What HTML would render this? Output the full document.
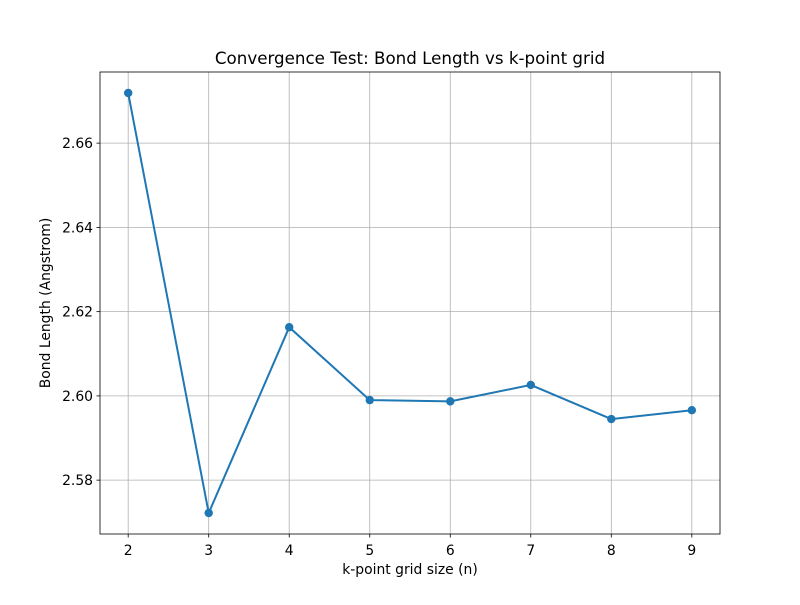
<!DOCTYPE html>
<html><head><meta charset="utf-8"><style>body{margin:0;background:#fff}svg{font-family:"DejaVu Sans","Liberation Sans",sans-serif}</style></head>
<body>
<svg id="chart" width="800" height="600" xmlns="http://www.w3.org/2000/svg">
<rect width="800" height="600" fill="#fff"/>
</svg>
<script>
const categories=[2,3,4,5,6,7,8,9];
const bondLength=[2.6719,2.5722,2.6163,2.5990,2.5987,2.6026,2.5945,2.5966];
const yTicks=[2.58,2.60,2.62,2.64,2.66];
const L=100,R=720,T=72,B=534;
const svg=document.getElementById('chart');
const NS='http://www.w3.org/2000/svg';
const xmin=Math.min(...categories),xmax=Math.max(...categories);
const xm=(xmax-xmin)*0.05;
const ymn=Math.min(...bondLength),ymx=Math.max(...bondLength),ym=(ymx-ymn)*0.05;
const x=v=>L+(v-(xmin-xm))/((xmax+xm)-(xmin-xm))*(R-L);
const y=v=>B-(v-(ymn-ym))/((ymx+ym)-(ymn-ym))*(B-T);
function mk(t,a,p){const e=document.createElementNS(NS,t);for(const k in a)e.setAttribute(k,a[k]);(p||svg).appendChild(e);return e;}
const grid=mk('g',{});


categories.forEach(c=>{
 const l=mk('line',{x1:x(c),x2:x(c),y1:T,y2:B,stroke:'#b0b0b0','stroke-width':0.8},grid);
 
 
 const tk=mk('line',{x1:x(c),x2:x(c),y1:B,y2:B+3.5,stroke:'#000','stroke-width':0.8});
 
 
 const t=mk('text',{x:x(c),y:B+21,'text-anchor':'middle','font-size':13.9,fill:'#000'});
 t.textContent=c;
 
 
});
yTicks.forEach(v=>{
 const l=mk('line',{x1:L,x2:R,y1:y(v),y2:y(v),stroke:'#b0b0b0','stroke-width':0.8},grid);
 
 
 const tk=mk('line',{x1:L-3.5,x2:L,y1:y(v),y2:y(v),stroke:'#000','stroke-width':0.8});
 
 
 const t=mk('text',{x:L-7,y:y(v)+5,'text-anchor':'end','font-size':13.9,fill:'#000'});
 t.textContent=v.toFixed(2);
 
 
});
const line=mk('polyline',{points:categories.map((c,i)=>x(c)+','+y(bondLength[i])).join(' '),fill:'none',stroke:'#1f77b4','stroke-width':2});


categories.forEach((c,i)=>{
 const p=mk('circle',{cx:x(c),cy:y(bondLength[i]),r:4.2,fill:'#1f77b4'});
 
 
});
const fr=mk('rect',{x:L,y:T,width:R-L,height:B-T,fill:'none',stroke:'#000','stroke-width':0.8});


const ti=mk('text',{x:(L+R)/2,y:T-8,'text-anchor':'middle','font-size':16.7,fill:'#000'});
ti.textContent='Convergence Test: Bond Length vs k-point grid';


const xt=mk('text',{x:(L+R)/2,y:B+40,'text-anchor':'middle','font-size':13.9,fill:'#000'});
xt.textContent='k-point grid size (n)';


const yt=mk('text',{x:0,y:0,'text-anchor':'middle','font-size':13.9,fill:'#000',transform:`translate(50,${(T+B)/2}) rotate(-90)`});
yt.textContent='Bond Length (Angstrom)';


</script>
</body></html>
